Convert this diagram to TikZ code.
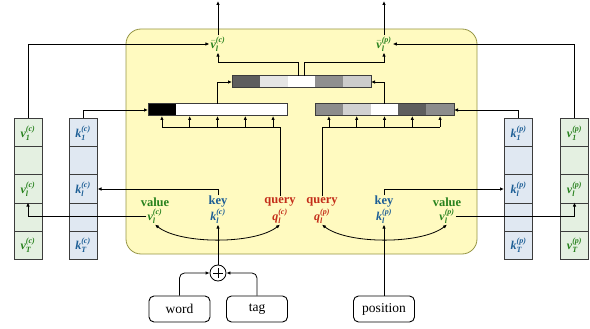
\documentclass[tikz,border=0pt]{standalone}
\usepackage{amsmath}
\usepackage{fontspec}
\setmainfont{Liberation Serif}
\usetikzlibrary{arrows.meta,calc}
\newcommand\bfit[1]{\text{\bfseries\itshape #1}}
\newcommand\labvar[3]{$\bfit{#1}_{\bfit{#2}}^{\bfit{(#3)}}$}
\newcommand\labbar[3]{$\bar{\bfit{#1}}_{\bfit{#2}}^{\bfit{(#3)}}$}
\definecolor{vgreen}{RGB}{40,130,30}
\definecolor{kblue}{RGB}{30,95,150}
\definecolor{qred}{RGB}{195,45,25}
\definecolor{vfill}{RGB}{228,240,225}
\definecolor{kfill}{RGB}{224,232,242}
\definecolor{panelfill}{RGB}{255,250,192}
\definecolor{panelline}{RGB}{150,150,70}
\definecolor{cellb}{RGB}{60,60,60}
\begin{document}
\begin{tikzpicture}[x=1pt,y=-1pt,
  arr/.style={-{Latex[length=4pt,width=3.5pt]}, line width=0.8pt},
  darr/.style={{Latex[length=4pt,width=3.5pt]}-{Latex[length=4pt,width=3.5pt]}, line width=0.8pt},
  ln/.style={line width=0.8pt},
  cellv/.style={draw=cellb, line width=1pt, fill=vfill, minimum width=28pt, minimum height=28pt, inner sep=0pt, text=vgreen, font=\fontsize{12}{14}\selectfont},
  cellk/.style={draw=cellb, line width=1pt, fill=kfill, minimum width=28pt, minimum height=28pt, inner sep=0pt, text=kblue, font=\fontsize{12}{14}\selectfont},
  bcell/.style={minimum width=27.8pt, minimum height=12pt, inner sep=0pt, outer sep=0pt},
  barframe/.style={draw=cellb, line width=1pt},
  wlab/.style={font=\fontsize{12.5}{14}\selectfont\bfseries, inner sep=1pt},
  mlab/.style={font=\fontsize{12}{14}\selectfont, inner sep=1pt},
  inbox/.style={draw, line width=0.9pt, rounded corners=5pt, minimum width=61pt, minimum height=26pt, inner sep=0pt, font=\fontsize{13.5}{15}\selectfont},
  plusnode/.style={draw, circle, line width=0.8pt, minimum size=16pt, inner sep=0pt,
    path picture={\draw[line width=0.8pt] ([xshift=-5pt]path picture bounding box.center) -- ([xshift=5pt]path picture bounding box.center);
                  \draw[line width=0.8pt] ([yshift=-5pt]path picture bounding box.center) -- ([yshift=5pt]path picture bounding box.center);}}
]
\useasboundingbox (0,0) rectangle (590,329);

% panel
\draw[fill=panelfill, draw=panelline, line width=0.8pt, rounded corners=15pt] (126,29) rectangle (477,254);

% columns
\foreach \i/\t in {1/{\labvar{v}{1}{c}},2/{},3/{\labvar{v}{l}{c}},4/{},5/{\labvar{v}{T}{c}}}
  \node[cellv] (vc\i) at (28,{105+28*\i}) {\t};
\foreach \i/\t in {1/{\labvar{k}{1}{c}},2/{},3/{\labvar{k}{l}{c}},4/{},5/{\labvar{k}{T}{c}}}
  \node[cellk] (kc\i) at (83,{105+28*\i}) {\t};
\foreach \i/\t in {1/{\labvar{k}{1}{p}},2/{},3/{\labvar{k}{l}{p}},4/{},5/{\labvar{k}{T}{p}}}
  \node[cellk] (kp\i) at (518.5,{105+28*\i}) {\t};
\foreach \i/\t in {1/{\labvar{v}{1}{p}},2/{},3/{\labvar{v}{l}{p}},4/{},5/{\labvar{v}{T}{p}}}
  \node[cellv] (vp\i) at (574.5,{105+28*\i}) {\t};

% bars
\foreach \i/\c in {1/black,2/white,3/white,4/white,5/white}
  \node[bcell, fill=\c] (lb\i) at ({161.9+27.8*(\i-1)},110) {};
\draw[barframe] (lb1.north west) rectangle (lb5.south east);
\foreach \i/\c in {1/black!45,2/black!18,3/white,4/black!63,5/black!45}
  \node[bcell, fill=\c] (rb\i) at ({328.9+27.8*(\i-1)},110) {};
\draw[barframe] (rb1.north west) rectangle (rb5.south east);
\foreach \i/\c in {1/black!63,2/black!10,3/white,4/black!44,5/black!20}
  \node[bcell, fill=\c] (mb\i) at ({245.9+27.8*(\i-1)},82) {};
\draw[barframe] (mb1.north west) rectangle (mb5.south east);

% output labels
\node[mlab, text=vgreen] (vbarc) at (218,44) {\labbar{v}{l}{c}};
\node[mlab, text=vgreen] (vbarp) at (384,44) {\labbar{v}{l}{p}};
\coordinate (outc) at (218,1);
\coordinate (outp) at (384,1);
\draw[arr] (vbarc.north) -- (outc);
\draw[arr] (vbarp.north) -- (outp);

% inner labels
\node[wlab, text=vgreen] (valc) at (155,202) {value};
\node[mlab, text=vgreen] (vlc) at (155,216) {\labvar{v}{l}{c}};
\node[wlab, text=kblue] (keyc) at (218,202) {key};
\node[mlab, text=kblue] (klc) at (218,216) {\labvar{k}{l}{c}};
\node[wlab, text=qred] (qwc) at (280,202) {query};
\node[mlab, text=qred] (qlc) at (280,216) {\labvar{q}{l}{c}};
\node[wlab, text=qred] (qwp) at (322,202) {query};
\node[mlab, text=qred] (qlp) at (322,216) {\labvar{q}{l}{p}};
\node[wlab, text=kblue] (keyp) at (384,202) {key};
\node[mlab, text=kblue] (klp) at (384,216) {\labvar{k}{l}{p}};
\node[wlab, text=vgreen] (valp) at (447,202) {value};
\node[mlab, text=vgreen] (vlp) at (447,216) {\labvar{v}{l}{p}};

% inputs
\node[inbox] (word) at (179.5,309) {word};
\node[inbox] (tag) at (257,309) {tag};
\node[inbox] (pos) at (384,309) {position};
\node[plusnode] (plus) at (218,273) {};

% connections: columns to output / bars
\draw[arr] (vc1.north) |- (vbarc.west);
\draw[arr] (vp1.north) |- (vbarp.east);
\draw[arr] (kc1.north) |- (lb1.west);
\draw[arr] (kp1.north) |- (rb5.east);

% bars to middle
\draw[arr] (lb3.north) |- (mb1.west);
\draw[arr] (rb3.north) |- (mb5.east);
\coordinate (midrow) at (0,62);
\draw[arr] ([xshift=-3pt]mb3.north) |- (vbarc |- midrow) -- (vbarc.south);
\draw[arr] ([xshift=3pt]mb3.north) |- (vbarp |- midrow) -- (vbarp.south);

% query rows
\coordinate (qrow) at (0,127);
\draw[ln] (qwc.north) |- (lb1 |- qrow);
\draw[ln] (qwp.north) |- (rb5 |- qrow);
\foreach \i in {1,...,5} {
  \draw[arr] (lb\i |- qrow) -- (lb\i.south);
  \draw[arr] (rb\i |- qrow) -- (rb\i.south);
}

% key links
\draw[arr] (keyc.north) |- (kc3.east);
\draw[arr] (keyp.north) |- (kp3.west);

% value links
\draw[arr] (vlc.west) -| (vc4.north);
\draw[arr] (vlp.east) -| (vp4.north);

% curved arrows
\draw[darr] (vlc.south) .. controls +(25,20) and +(-25,20) .. (qlc.south);
\draw[darr] (qlp.south) .. controls +(25,20) and +(-25,20) .. (vlp.south);

% inputs to keys
\draw[arr] (plus.north) -- (klc.south);
\draw[arr] (pos.north) -- (klp.south);
\draw[arr, rounded corners=5pt] (word.north) |- (plus.west);
\draw[arr, rounded corners=5pt] (tag.north) |- (plus.east);
\end{tikzpicture}
\end{document}
